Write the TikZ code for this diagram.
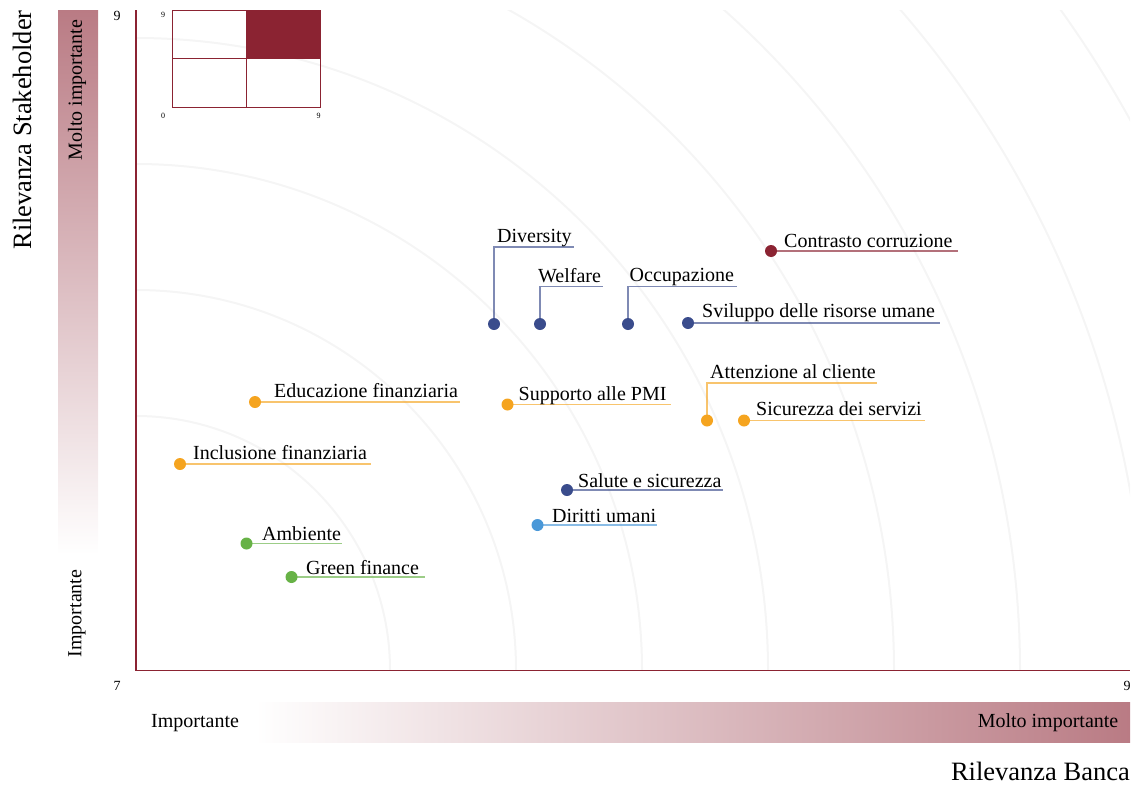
\documentclass[tikz,border=0pt]{standalone}
\usepackage{fontspec}
\setmainfont{Liberation Serif}
\usetikzlibrary{backgrounds}
\definecolor{cRed}{HTML}{8B2332}
\definecolor{cNavy}{HTML}{3A4C8C}
\definecolor{cOrange}{HTML}{F5A41F}
\definecolor{cGreen}{HTML}{67B246}
\definecolor{cBlue}{HTML}{4A98D8}
\definecolor{cArc}{HTML}{F5F5F5}
\begin{document}
\begin{tikzpicture}[x=1pt,y=1pt,
  dot/.style={circle,inner sep=0pt,minimum size=12pt,fill=#1},
  lbl/.style={anchor=base west,inner sep=0pt,font=\fontsize{20}{24}\selectfont},
  ln/.style={draw=#1,draw opacity=0.65,line width=1.5pt},
  tick/.style={inner sep=0pt,font=\fontsize{14}{16}\selectfont},
  itick/.style={inner sep=0pt,font=\fontsize{8}{9}\selectfont},
  axtitle/.style={inner sep=0pt,font=\fontsize{26.5}{30}\selectfont},
  bartxt/.style={inner sep=0pt,font=\fontsize{20}{24}\selectfont}]
\useasboundingbox (0,0) rectangle (1139,-787);

% gradient bars
\shade[top color=cRed!60, bottom color=white] (58,-10) rectangle (98,-555);
\shade[left color=white, right color=cRed!60] (255,-702) rectangle (1130,-742);

% axes
\draw[cRed, line width=1.3pt] (136,-10) -- (136,-670.5) -- (1130,-670.5);

% tick labels
\node[tick] (ty9) at (117,-15.5) {9};
\node[tick] (ty7) at (117,-686) {7};
\node[tick] (tx9) at (1127,-686) {9};

% axis titles
\node[axtitle, anchor=base east] (xt) at (1130,-780) {Rilevanza Banca};
\node[axtitle, rotate=90, anchor=center] (yt) at (22,-130) {Rilevanza Stakeholder};
\node[bartxt, rotate=90] (ymi) at (77,-90) {Molto importante};
\node[bartxt, rotate=90] (yi) at (77,-613.5) {Importante};
\node[bartxt, anchor=base west] (xi) at (151,-727.5) {Importante};
\node[bartxt, anchor=base east] (xmi) at (1118.5,-727.5) {Molto importante};

% inset
\fill[cRed] (246,-10.5) rectangle (320,-58.5);
\draw[cRed, line width=1pt] (172,-10.5) rectangle (320,-107.5);
\draw[cRed, line width=1pt] (246,-10.5) -- (246,-107.5);
\draw[cRed, line width=1pt] (172,-58.5) -- (320,-58.5);
\node[itick] (i9a) at (163,-14.5) {9};
\node[itick] (i0) at (163,-116) {0};
\node[itick] (i9b) at (318.5,-116) {9};

% dots
\node[dot=cRed] (d1) at (771,-251) {};
\node[dot=cNavy] (d2) at (688,-323) {};
\node[dot=cOrange] (d3) at (744,-420.5) {};
\node[dot=cOrange] (d4) at (707,-420.5) {};
\node[dot=cNavy] (d5) at (494,-324) {};
\node[dot=cNavy] (d6) at (540,-324) {};
\node[dot=cNavy] (d7) at (628,-324) {};
\node[dot=cOrange] (d8) at (255,-402) {};
\node[dot=cOrange] (d9) at (507.5,-404.5) {};
\node[dot=cOrange] (d10) at (180,-464) {};
\node[dot=cNavy] (d11) at (567,-490) {};
\node[dot=cBlue] (d12) at (537.5,-525) {};
\node[dot=cGreen] (d13) at (246.5,-543.5) {};
\node[dot=cGreen] (d14) at (291.5,-577) {};

% labels
\node[lbl] (t1) at (784,-247) {Contrasto corruzione};
\node[lbl] (t2) at (702,-317.5) {Sviluppo delle risorse umane};
\node[lbl] (t3) at (756,-415.5) {Sicurezza dei servizi};
\node[lbl] (t4) at (710,-378.5) {Attenzione al cliente};
\node[lbl] (t5) at (497,-242.5) {Diversity};
\node[lbl] (t6) at (538,-282.5) {Welfare};
\node[lbl] (t7) at (629.5,-281.5) {Occupazione};
\node[lbl] (t8) at (274,-397.5) {Educazione finanziaria};
\node[lbl] (t9) at (518.5,-400) {Supporto alle PMI};
\node[lbl] (t10) at (193,-459.5) {Inclusione finanziaria};
\node[lbl] (t11) at (578,-487.5) {Salute e sicurezza};
\node[lbl] (t12) at (552,-522) {Diritti umani};
\node[lbl] (t13) at (262,-540) {Ambiente};
\node[lbl] (t14) at (306,-574) {Green finance};

% line ends
\coordinate (e1) at (958,-251);
\coordinate (e2) at (940,-323);
\coordinate (e3) at (925,-420.5);
\coordinate (b4) at (707,-383);  \coordinate (e4) at (877,-383);
\coordinate (b5) at (494,-247);  \coordinate (e5) at (574,-247);
\coordinate (b6) at (540,-286.5); \coordinate (e6) at (603,-286.5);
\coordinate (b7) at (628,-286.5); \coordinate (e7) at (737,-286.5);
\coordinate (e8) at (460,-402);
\coordinate (e9) at (670.5,-404.5);
\coordinate (e10) at (371,-464);
\coordinate (e11) at (723,-490);
\coordinate (e12) at (657,-525);
\coordinate (e13) at (342,-543.5);
\coordinate (e14) at (425,-577);

\begin{scope}[on background layer]
  \begin{scope}
    \clip (136,-10) rectangle (1130,-670);
    \foreach \r in {254,380,...,1136}
      \draw[cArc, line width=2pt] (136,-670) circle[radius=\r pt];
  \end{scope}
  \draw[ln=cRed] (d1.center) -- (e1);
  \draw[ln=cNavy] (d2.center) -- (e2);
  \draw[ln=cOrange] (d3.center) -- (e3);
  \draw[ln=cOrange] (d4.center) -- (b4) -- (e4);
  \draw[ln=cNavy] (d5.center) -- (b5) -- (e5);
  \draw[ln=cNavy] (d6.center) -- (b6) -- (e6);
  \draw[ln=cNavy] (d7.center) -- (b7) -- (e7);
  \draw[ln=cOrange] (d8.center) -- (e8);
  \draw[ln=cOrange] (d9.center) -- (e9);
  \draw[ln=cOrange] (d10.center) -- (e10);
  \draw[ln=cNavy] (d11.center) -- (e11);
  \draw[ln=cBlue] (d12.center) -- (e12);
  \draw[ln=cGreen] (d13.center) -- (e13);
  \draw[ln=cGreen] (d14.center) -- (e14);
\end{scope}
\end{tikzpicture}
\end{document}
